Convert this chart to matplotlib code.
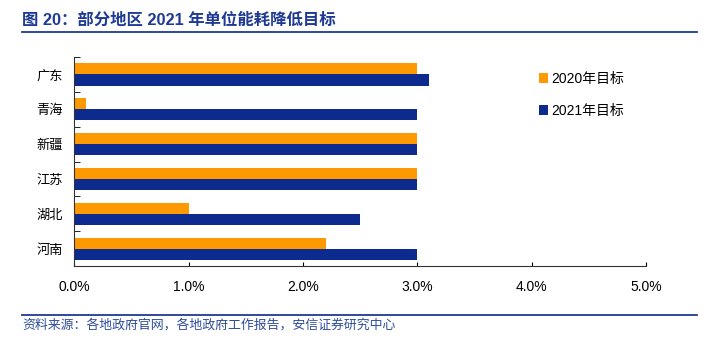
import numpy as np
import matplotlib.pyplot as plt
from matplotlib.lines import Line2D
from matplotlib.ticker import PercentFormatter

plt.rcParams['font.family'] = ['Liberation Sans', 'Noto Sans CJK SC']

regions = ['广东', '青海', '新疆', '江苏', '湖北', '河南']
target_2020 = [3.0, 0.1, 3.0, 3.0, 1.0, 2.2]
target_2021 = [3.1, 3.0, 3.0, 3.0, 2.5, 3.0]
xticks = [0, 1, 2, 3, 4, 5]

orange = '#FF9900'
navy = '#0D2A8E'
title_blue = '#1F3A93'

fig = plt.figure(figsize=(7.19, 3.39), dpi=100)
ax = fig.add_axes([0.103, 0.215, 0.796, 0.617])

y = np.arange(len(regions))[::-1]
h = 0.32
ax.barh(y + h / 2, target_2020, height=h, color=orange, label='2020年目标')
ax.barh(y - h / 2, target_2021, height=h, color=navy, label='2021年目标')

ax.set_ylim(-0.5, len(regions) - 0.5)
ax.set_yticks(y)
ax.set_yticklabels(regions, fontsize=9.5, family=['Noto Sans CJK SC'])
ax.set_yticks(np.arange(-0.5, len(regions), 1), minor=True)
ax.tick_params(axis='y', which='major', length=0, pad=8)
ax.tick_params(axis='y', which='minor', length=4, direction='in')

ax.set_xlim(0, 5)
ax.set_xticks(xticks)
ax.xaxis.set_major_formatter(PercentFormatter(decimals=1))
ax.tick_params(axis='x', direction='in', length=3, labelsize=10, pad=10)

for s in ['top', 'right']:
    ax.spines[s].set_visible(False)
for s in ['left', 'bottom']:
    ax.spines[s].set_color('#333333')

ax.legend(loc='upper left', bbox_to_anchor=(0.79, 0.99), frameon=False,
          fontsize=10, handlelength=0.7, handleheight=0.7, handletextpad=0.2,
          labelspacing=1.3)

fig.text(0.031, 0.94, '图 20：部分地区 2021 年单位能耗降低目标', fontsize=11.8,
         fontweight='bold', color=title_blue, va='center')
fig.add_artist(Line2D([0.031, 0.969], [0.905, 0.905], color=title_blue, lw=1.3))
fig.add_artist(Line2D([0.031, 0.969], [0.071, 0.071], color=title_blue, lw=1.3))
fig.text(0.031, 0.04, '资料来源：各地政府官网，各地政府工作报告，安信证券研究中心',
         fontsize=9.3, color='#2E4D9B', style='italic', va='center',
         family=['Noto Sans CJK SC'])

fig.savefig('out.png', dpi=100)
